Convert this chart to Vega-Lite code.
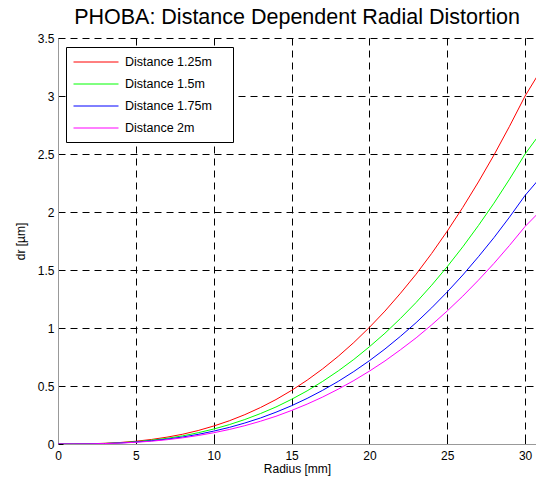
{
  "$schema": "https://vega.github.io/schema/vega-lite/v6.json",
  "width": 478,
  "height": 406,
  "autosize": "none",
  "padding": {"left": 58, "top": 38, "right": 0, "bottom": 38},
  "background": "white",
  "title": {"text": "PHOBA: Distance Dependent Radial Distortion", "font": "Liberation Sans", "fontSize": 21.5, "fontWeight": "normal", "color": "black", "offset": 4, "anchor": "middle"},
  "config": {
    "view": {"stroke": null},
    "font": "Liberation Sans",
    "axis": {"labelFont": "Liberation Sans", "titleFont": "Liberation Sans", "labelFontSize": 12, "titleFontSize": 12, "titleFontWeight": "normal", "labelColor": "black", "titleColor": "black", "tickColor": "black", "tickSize": -5, "domainColor": "#999999", "gridColor": "black", "gridDash": [7, 5], "gridOpacity": 1, "gridWidth": 1}
  },
  "data": {"values": [
    {"r": 0, "r125": 0, "r150": 0, "r175": 0, "r200": 0},
    {"r": 1, "r125": 0.0003, "r150": 0.0003, "r175": 0.0002, "r200": 0.0002},
    {"r": 2, "r125": 0.002, "r150": 0.002, "r175": 0.001, "r200": 0.001},
    {"r": 3, "r125": 0.006, "r150": 0.005, "r175": 0.004, "r200": 0.004},
    {"r": 4, "r125": 0.013, "r150": 0.011, "r175": 0.009, "r200": 0.008},
    {"r": 5, "r125": 0.024, "r150": 0.020, "r175": 0.017, "r200": 0.015},
    {"r": 6, "r125": 0.039, "r150": 0.033, "r175": 0.028, "r200": 0.024},
    {"r": 7, "r125": 0.059, "r150": 0.049, "r175": 0.042, "r200": 0.037},
    {"r": 8, "r125": 0.084, "r150": 0.070, "r175": 0.060, "r200": 0.053},
    {"r": 9, "r125": 0.116, "r150": 0.097, "r175": 0.083, "r200": 0.073},
    {"r": 10, "r125": 0.155, "r150": 0.129, "r175": 0.111, "r200": 0.097},
    {"r": 11, "r125": 0.200, "r150": 0.167, "r175": 0.143, "r200": 0.125},
    {"r": 12, "r125": 0.253, "r150": 0.211, "r175": 0.181, "r200": 0.158},
    {"r": 13, "r125": 0.314, "r150": 0.262, "r175": 0.224, "r200": 0.196},
    {"r": 14, "r125": 0.383, "r150": 0.319, "r175": 0.274, "r200": 0.239},
    {"r": 15, "r125": 0.462, "r150": 0.385, "r175": 0.330, "r200": 0.289},
    {"r": 16, "r125": 0.550, "r150": 0.458, "r175": 0.393, "r200": 0.344},
    {"r": 17, "r125": 0.648, "r150": 0.540, "r175": 0.463, "r200": 0.405},
    {"r": 18, "r125": 0.756, "r150": 0.630, "r175": 0.540, "r200": 0.473},
    {"r": 19, "r125": 0.875, "r150": 0.729, "r175": 0.625, "r200": 0.547},
    {"r": 20, "r125": 1.005, "r150": 0.838, "r175": 0.718, "r200": 0.628},
    {"r": 21, "r125": 1.146, "r150": 0.955, "r175": 0.819, "r200": 0.716},
    {"r": 22, "r125": 1.300, "r150": 1.083, "r175": 0.929, "r200": 0.813},
    {"r": 23, "r125": 1.464, "r150": 1.220, "r175": 1.046, "r200": 0.915},
    {"r": 24, "r125": 1.643, "r150": 1.369, "r175": 1.174, "r200": 1.027},
    {"r": 25, "r125": 1.835, "r150": 1.529, "r175": 1.311, "r200": 1.147},
    {"r": 26, "r125": 2.040, "r150": 1.700, "r175": 1.457, "r200": 1.275},
    {"r": 27, "r125": 2.259, "r150": 1.883, "r175": 1.614, "r200": 1.412},
    {"r": 28, "r125": 2.491, "r150": 2.076, "r175": 1.779, "r200": 1.557},
    {"r": 29, "r125": 2.739, "r150": 2.283, "r175": 1.956, "r200": 1.712},
    {"r": 30, "r125": 3.000, "r150": 2.500, "r175": 2.143, "r200": 1.875},
    {"r": 31, "r125": 3.220, "r150": 2.683, "r175": 2.300, "r200": 2.012}
  ]},
  "transform": [{"fold": ["r125", "r150", "r175", "r200"], "as": ["series", "dr"]}],
  "layer": [
    {
      "mark": {"type": "line", "strokeWidth": 1, "clip": true},
      "encoding": {
        "x": {"field": "r", "type": "quantitative", "scale": {"domain": [0, 30.7], "nice": false, "zero": false},
          "axis": {"title": "Radius [mm]", "values": [0, 5, 10, 15, 20, 25, 30], "format": "~g", "labelPadding": 11, "titlePadding": 2, "labelFlush": false, "grid": true}},
        "y": {"field": "dr", "type": "quantitative", "scale": {"domain": [0, 3.5], "nice": false},
          "axis": {"title": "dr [µm]", "values": [0, 0.5, 1, 1.5, 2, 2.5, 3, 3.5], "format": "~g", "labelPadding": 9, "titlePadding": 10, "labelFlush": false, "grid": true}},
        "color": {"field": "series", "type": "nominal",
          "scale": {"domain": ["r125", "r150", "r175", "r200"], "range": ["#ff0000", "#00ff00", "#0000ff", "#ff00ff"]},
          "legend": {"title": "ab", "titleOrient": "right", "titleColor": "rgba(0,0,0,0)", "titleFontSize": 10, "titlePadding": 2, "orient": "none", "legendX": 8, "legendY": 9, "symbolType": "M-1,0H5", "symbolSize": 225, "symbolStrokeWidth": 1, "symbolFillColor": "transparent", "labelFontSize": 12.5, "labelFont": "Liberation Sans", "labelColor": "black", "labelExpr": "{'r125':'Distance 1.25m','r150':'Distance 1.5m','r175':'Distance 1.75m','r200':'Distance 2m'}[datum.label]", "strokeColor": "black", "fillColor": "white", "padding": 7, "rowPadding": 7, "labelOffset": 36}
        }
      }
    },
    {
      "mark": {"type": "line", "strokeWidth": 1, "opacity": 0, "clip": true},
      "encoding": {
        "x": {"field": "r", "type": "quantitative",
          "axis": {"orient": "top", "title": null, "labels": false, "domain": false, "grid": false, "values": [0, 5, 10, 15, 20, 25, 30]}},
        "y": {"field": "dr", "type": "quantitative"},
        "detail": {"field": "series", "type": "nominal"}
      }
    }
  ],
  "resolve": {"axis": {"x": "independent"}}
}
